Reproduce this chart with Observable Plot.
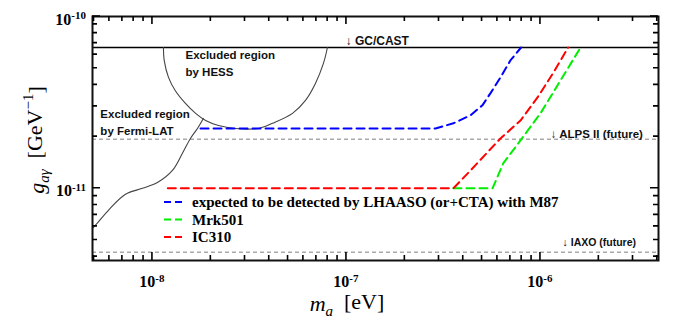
<!DOCTYPE html>
<html><head><meta charset="utf-8">
<script src="https://cdn.jsdelivr.net/npm/d3@7"></script>
<script src="https://cdn.jsdelivr.net/npm/@observablehq/plot@0.6"></script>
<style>body{margin:0;background:#fff;} svg{display:block;}</style>
</head><body><div id="chart"></div>
<script>
// ---- data (m_a in eV, g in GeV^-1) ----
const hessMass = [1.14e-8,1.15e-8,1.21e-8,1.31e-8,1.48e-8,1.67e-8,1.88e-8,2.19e-8,2.68e-8,3.52e-8,4.16e-8,5.27e-8,6.15e-8,6.92e-8,7.61e-8,7.98e-8];
const hessG    = [6.6e-11,5.55e-11,4.42e-11,3.71e-11,3.12e-11,2.73e-11,2.48e-11,2.32e-11,2.23e-11,2.23e-11,2.39e-11,2.73e-11,3.25e-11,4.08e-11,5.33e-11,6.6e-11];
const fermiMass = [4.9e-9,5.08e-9,5.93e-9,7.26e-9,8.88e-9,1.061e-8,1.268e-8,1.428e-8,1.57e-8,1.706e-8,1.83e-8];
const fermiG    = [5.85e-12,6.09e-12,7.45e-12,9.23e-12,1.0e-11,1.08e-11,1.27e-11,1.60e-11,1.95e-11,2.23e-11,2.55e-11];
const m87Mass = [1.77e-8,2.88e-7,3.56e-7,4.36e-7,5.02e-7,5.52e-7,6.22e-7,7.0e-7,7.95e-7];
const m87G    = [2.23e-11,2.23e-11,2.39e-11,2.66e-11,3.04e-11,3.57e-11,4.42e-11,5.55e-11,6.6e-11];
const mrk501Mass = [3.56e-7,5.66e-7,6.44e-7,7.89e-7,1.0e-6,1.27e-6,1.61e-6];
const mrk501G    = [1e-11,1e-11,1.40e-11,1.90e-11,2.73e-11,4.25e-11,6.6e-11];
const ic310Mass = [1.2e-8,3.56e-7,4.36e-7,6.22e-7,7.89e-7,9.66e-7,1.167e-6,1.39e-6];
const ic310G    = [1e-11,1e-11,1.27e-11,1.95e-11,2.48e-11,3.38e-11,4.72e-11,6.6e-11];
const gcCastG = [6.6e-11];
const futureG = [1.93e-11, 4.25e-12]; // ALPS II, IAXO

const regionLabels = ["Excluded region\nby HESS", "Excluded region\nby Fermi-LAT"];
const regionLabelMass = [1.48e-8, 5.39e-9];
const regionLabelG = [5.44e-11, 2.47e-11];
const limitLabels = ["\u2193 GC/CAST", "\u2193 ALPS II (future)", "\u2193 IAXO (future)"];
const limitLabelMass = [9.9e-8, 1.13e-6, 1.30e-6];
const limitLabelG = [7.16e-11, 2.06e-11, 4.85e-12];
const limitLabelSize = [12, 11.5, 10.5];

const legendNames = ["expected to be detected by LHAASO (or+CTA) with M87", "Mrk501", "IC310"];
const seriesColors = ["#0000ff", "#00ee00", "#ff0000"];

const xMajor = [1e-8, 1e-7, 1e-6];
const xMajorExp = ["-8", "-7", "-6"];
const xMinor = [5e-9,6e-9,7e-9,8e-9,9e-9,2e-8,3e-8,4e-8,5e-8,6e-8,7e-8,8e-8,9e-8,2e-7,3e-7,4e-7,5e-7,6e-7,7e-7,8e-7,9e-7,2e-6,3e-6,4e-6];
const yMajor = [1e-11, 1e-10];
const yMajorExp = ["-11", "-10"];
const yMinor = [4e-12,5e-12,6e-12,7e-12,8e-12,9e-12,2e-11,3e-11,4e-11,5e-11,6e-11,7e-11,8e-11,9e-11];

// ---- chart ----
const W = 678, H = 320;
const ML = 92, MR = 20, MT = 16, MB = 60;
const serif = "'Liberation Serif', 'DejaVu Serif', serif";
const sans = "'Liberation Sans', Arial, sans-serif";
const idx = a => a.map((_, i) => i);
const MAJ = 8, MIN = 5;

const curve = (xs, ys, color) => Plot.line(idx(xs), {x: i => xs[i], y: i => ys[i], stroke: color, strokeWidth: 2, strokeDasharray: "8,5", curve: "linear"});

const chart = Plot.plot({
  width: W, height: H,
  marginLeft: ML, marginRight: MR, marginTop: MT, marginBottom: MB,
  style: {background: "#fff", color: "#000", overflow: "visible"},
  x: {type: "log", domain: [4.91e-9, 4.06e-6], label: null, axis: null},
  y: {type: "log", domain: [3.8e-12, 1e-10], label: null, axis: null},
  marks: [
    Plot.ruleY(futureG, {stroke: "#aaaaaa", strokeWidth: 1.5, strokeDasharray: "4,3"}),
    Plot.ruleY(gcCastG, {stroke: "#000", strokeWidth: 1.5}),
    Plot.line(idx(hessMass), {x: i => hessMass[i], y: i => hessG[i], stroke: "#444", strokeWidth: 1.1, curve: "catmull-rom"}),
    Plot.line(idx(fermiMass), {x: i => fermiMass[i], y: i => fermiG[i], stroke: "#444", strokeWidth: 1.1, curve: "catmull-rom"}),
    curve(m87Mass, m87G, seriesColors[0]),
    curve(mrk501Mass, mrk501G, seriesColors[1]),
    curve(ic310Mass, ic310G, seriesColors[2]),
    Plot.text(idx(regionLabels), {x: i => regionLabelMass[i], y: i => regionLabelG[i], text: i => regionLabels[i], textAnchor: "start", lineAnchor: "middle", lineHeight: 1.45, fontSize: 11.5, fontWeight: "bold", fontFamily: sans, fill: "#111"}),
    Plot.text(idx(limitLabels), {x: i => limitLabelMass[i], y: i => limitLabelG[i], text: i => limitLabels[i], textAnchor: "start", lineAnchor: "middle", fontSize: i => limitLabelSize[i], fontWeight: "bold", fontFamily: sans, fill: "#111"}),
    Plot.frame({stroke: "#111", strokeWidth: 2})
  ]
});
document.getElementById("chart").appendChild(chart);

const svg = d3.select(chart);
const xsc = chart.scale("x"), ysc = chart.scale("y");
const sx = v => xsc.apply ? xsc.apply(v) : d3.scaleLog(xsc.domain, xsc.range)(v);
const sy = v => ysc.apply ? ysc.apply(v) : d3.scaleLog(ysc.domain, ysc.range)(v);
const x0 = ML, x1 = W - MR, y0 = MT, y1 = H - MB;

// inward ticks on all four sides, placed through the chart's own scales
const tk = svg.append("g").attr("stroke", "#000").attr("stroke-width", 1.6).attr("fill", "none");
const addX = (vals, len) => vals.forEach(v => {
  const x = sx(v);
  tk.append("path").attr("d", `M${x},${y1}V${y1 - len}M${x},${y0}V${y0 + len}`);
});
const addY = (vals, len) => vals.forEach(v => {
  const y = sy(v);
  tk.append("path").attr("d", `M${x0},${y}H${x0 + len}M${x1},${y}H${x1 - len}`);
});
addX(xMajor, MAJ); addX(xMinor, MIN); addY(yMajor, MAJ); addY(yMinor, MIN);

// tick labels with superscripts
const lab = (x, y, anchor, exp) => {
  const t = svg.append("text").attr("x", x).attr("y", y).attr("text-anchor", anchor)
    .attr("font-family", serif).attr("font-weight", "bold").attr("font-size", 16).attr("fill", "#000");
  t.append("tspan").text("10");
  t.append("tspan").attr("dy", "-0.5em").attr("font-size", 11).text(exp);
};
xMajor.forEach((v, i) => lab(sx(v), y1 + 27, "middle", xMajorExp[i]));
yMajor.forEach((v, i) => lab(x0 - 6, sy(v) + 8.5, "end", yMajorExp[i]));

// axis titles
const xt = svg.append("text")
  .attr("x", 347).attr("y", 311)
  .attr("text-anchor", "middle").attr("font-family", serif).attr("font-size", 22).attr("fill", "#000");
xt.append("tspan").attr("font-style", "italic").text("m");
xt.append("tspan").attr("font-style", "italic").attr("font-size", 15).attr("dy", "0.3em").text("a");
xt.append("tspan").attr("dy", "-0.3em").text("\u2002[eV]");

const yt = svg.append("text")
  .attr("transform", `translate(44,140) rotate(-90)`)
  .attr("text-anchor", "middle").attr("font-family", serif).attr("font-size", 22).attr("fill", "#000");
yt.append("tspan").attr("font-style", "italic").text("g");
yt.append("tspan").attr("font-style", "italic").attr("font-size", 15).attr("dy", "0.3em").text("a\u03b3");
yt.append("tspan").attr("dy", "-0.3em").text("\u2002[GeV");
yt.append("tspan").attr("font-size", 15).attr("dy", "-0.6em").text("\u22121");
yt.append("tspan").attr("dy", "0.45em").text("]");

// legend inside the frame
const lg = svg.append("g");
legendNames.forEach((name, i) => {
  const y = 202 + i * 17.5;
  lg.append("line").attr("x1", 164).attr("x2", 184).attr("y1", y).attr("y2", y)
    .attr("stroke", seriesColors[i]).attr("stroke-width", 2).attr("stroke-dasharray", "7,4");
  lg.append("text").attr("x", 192).attr("y", y).attr("dy", "0.35em").attr("text-anchor", "start")
    .attr("font-family", serif).attr("font-weight", "bold").attr("font-size", 15).attr("fill", "#000").text(name);
});
</script>
</body></html>
